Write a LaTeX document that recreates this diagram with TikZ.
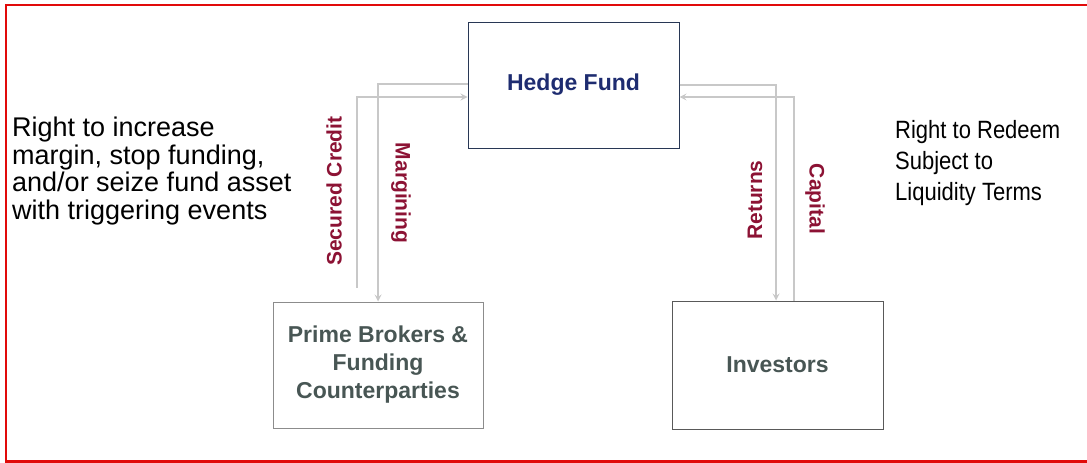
\documentclass[tikz,border=0pt]{standalone}
\usepackage{fontspec}
\setmainfont{Liberation Sans}
\usepackage{xcolor}
\usepackage{tikz}
\usetikzlibrary{positioning}
\tikzset{>=stealth}

\definecolor{fundblue}{RGB}{30,44,112}
\definecolor{fundedge}{RGB}{40,55,85}
\definecolor{boxgray}{RGB}{72,86,84}
\definecolor{flowred}{RGB}{140,18,52}
\definecolor{linegray}{RGB}{200,200,200}
\definecolor{frame}{RGB}{225,10,10}

\tikzset{
  party/.style={draw, line width=1pt, minimum width=211pt, minimum height=126pt,
    align=center, inner sep=0pt, font=\fontsize{23}{28}\selectfont\bfseries},
  flow/.style={draw=linegray, line width=2pt, ->},
  flowlabel/.style={text=flowred, inner sep=1pt, font=\fontsize{21}{22}\selectfont\bfseries},
  side/.style={align=left, anchor=north west, inner sep=0pt}
}

\begin{document}
\begin{tikzpicture}[x=1pt,y=1pt]
        \useasboundingbox (0,0) rectangle (1087,-463);
        \draw[frame, line width=2.5pt] (1090,-5) -- (6,-5) -- (6,-461.5) -- (1090,-461.5);

        % the three parties
        \node[party, draw=fundedge, text=fundblue] (fund) at (573.5,-85) {Hedge Fund};
        \node[party, draw=gray!90, text=boxgray, minimum width=210pt] (prime) at (378,-365)
          {Prime Brokers \&\\Funding\\Counterparties};
        \node[party, draw=black!65, text=boxgray, minimum height=128pt] (inv) at (777.5,-365) {Investors};

        % flows
        \coordinate (sc) at ([xshift=-21pt,yshift=14pt]prime.north);
        \path[flow] ([yshift=1pt]fund.west) -| (prime.north);
        \path[flow] (sc) |- ([yshift=-12pt]fund.west);
        \path[flow] (fund.east) -| ([xshift=-1.5pt]inv.north);
        \path[flow] ([xshift=16pt]inv.north) |- ([yshift=-12pt]fund.east);

        \node[flowlabel, rotate=90] (seclbl) at (334,-191) {Secured Credit};
        \node[flowlabel, rotate=-90] (marlbl) at (401,-193) {Margining};
        \node[flowlabel, rotate=90] (retlbl) at (755,-200) {Returns};
        \node[flowlabel, rotate=-90] (caplbl) at (815,-199) {Capital};

        % rights
        \node[side, font=\fontsize{27}{27.5}\selectfont] (leftnote) at (12,-117)
          {Right to increase\\margin, stop funding,\\and/or seize fund asset\\with triggering events};
        \node[side, font=\fontsize{25}{31}\selectfont] (rightnote) at (895,-120)
          {\scalebox{0.88}[1]{Right to Redeem}\\\scalebox{0.88}[1]{Subject to}\\\scalebox{0.88}[1]{Liquidity Terms}};
    \end{tikzpicture}
\end{document}
